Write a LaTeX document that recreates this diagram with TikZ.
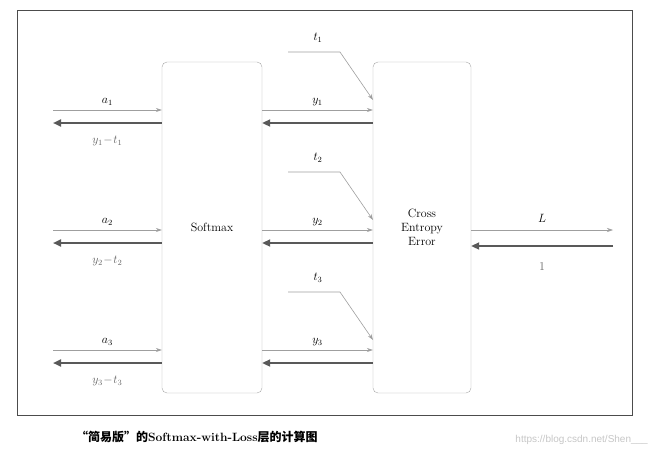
\documentclass[tikz,border=0pt]{standalone}
\usepackage{fontspec}
\newfontfamily\cjk{Noto Sans CJK SC}
\newfontfamily\wm{Liberation Sans}
\usetikzlibrary{arrows.meta}
\begin{document}
\begin{tikzpicture}[x=1pt,y=-1pt,
  box/.style={draw=gray!70,rounded corners=5pt,minimum width=100pt,minimum height=331pt,inner sep=0pt,font=\large,align=center},
  fwd/.style={draw=gray!75,line width=0.6pt,-{Stealth[length=6pt,width=4pt]}},
  bwd/.style={draw=black!65,line width=2pt,-{Triangle[length=8pt,width=7pt]}},
  lbl/.style={font=\large,inner sep=1pt},
  blbl/.style={font=\large,text=black!60,inner sep=1pt}]
\useasboundingbox (0,0) rectangle (656,458);
\draw[black!70] (17,10) rectangle (632,415);
\node[box] (sm) at (212,227.5) {Softmax};
\node[box,minimum width=98pt] (ce) at (422,227.5) {Cross\\Entropy\\Error};
\foreach \i/\y in {1/110,2/230,3/350}{
  \coordinate (l\i) at (53,\y);
  \coordinate (lb\i) at (53,\y+13);
  \draw[fwd] (l\i) -- (sm.west |- l\i) node[lbl,midway,above=3pt] {$a_{\i}$};
  \draw[bwd] (sm.west |- lb\i) -- (lb\i) node[blbl,midway,below=11pt] {$y_{\i}\!-\!t_{\i}$};
  \draw[fwd] (sm.east |- l\i) -- (ce.west |- l\i) node[lbl,midway,above=3pt] {$y_{\i}$};
  \draw[bwd] (ce.west |- lb\i) -- (sm.east |- lb\i);
  \coordinate (ts\i) at (288,\y-58);
  \coordinate (tk\i) at (340,\y-58);
  \coordinate (te\i) at (373,\y-10);
  \node[lbl] (t\i) at (318,\y-72) {$t_{\i}$};
  \draw[fwd] (ts\i) -- (tk\i) -- (te\i);
}
\coordinate (r1) at (613,230);
\coordinate (r2) at (613,246);
\draw[fwd] (ce.east |- r1) -- (r1) node[lbl,midway,above=6pt] {$L$};
\draw[bwd] (r2) -- (ce.east |- r2) node[blbl,midway,below=15pt] {1};
\node[anchor=west,font=\cjk\bfseries\large,inner sep=0pt] (cap) at (76,437) {“简易版”的{\rmfamily\bfseries Softmax-with-Loss}层的计算图};
\node[anchor=east,font=\wm,text=gray!45,inner sep=0pt] (wm) at (648,440) {https://blog.csdn.net/Shen\_\_\_};
\end{tikzpicture}
\end{document}
